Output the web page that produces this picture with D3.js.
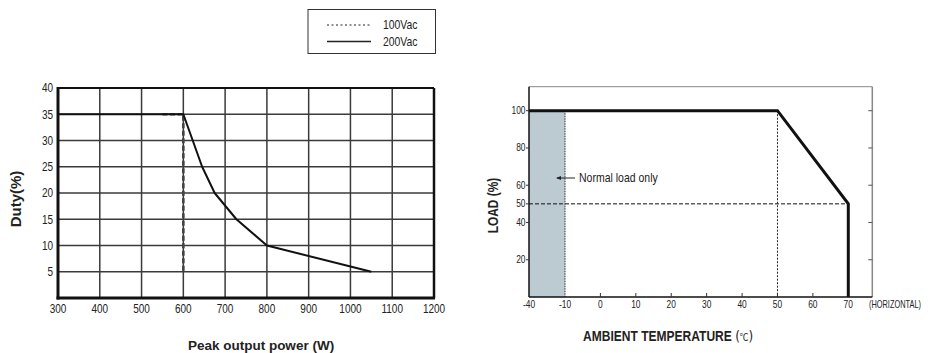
<!DOCTYPE html>
<html><head><meta charset="utf-8">
<script src="https://cdn.jsdelivr.net/npm/d3@7"></script>
<style>
body{margin:0;background:#fff;}
svg{display:block;}
text{font-family:"Liberation Sans",Arial,sans-serif;fill:#222;}
</style></head>
<body><svg id="c" width="928" height="353"></svg>
<script>
// ---- Data: left chart (Duty vs peak output power) ----
const powerTicks = [300,400,500,600,700,800,900,1000,1100,1200];
const dutyTicks = [5,10,15,20,25,30,35,40];
const vac200 = [[300,35],[600,35],[645,25],[675,20],[727,15],[800,10],[1050,5]];
const vac100 = [[550,35],[600,35],[600,5]];
const legendItems = ["100Vac","200Vac"];
// ---- Data: right chart (Derating curve) ----
const tempTicks = [-40,-10,0,10,20,30,40,50,60,70];
const loadTicks = [20,40,50,60,80,100];
const rightTicks = [20,40,60,80,100];
const derating = [[-40,100],[50,100],[70,50],[70,0]];
const normalLoadRange = [-40,-10];

const svg = d3.select("#c");
const SX = 0.8; // narrow face
function narrow(sel, sx = SX) {
  sel.each(function() {
    const t = d3.select(this), x = +t.attr("x"), y = +t.attr("y");
    t.attr("transform", `translate(${x},${y}) scale(${sx},1) translate(${-x},${-y})`);
  });
  return sel;
}

// ===== Left chart =====
const x1 = d3.scaleLinear().domain([300,1200]).range([58,434]);
const y1 = d3.scaleLinear().domain([0,40]).range([298,88]);
const g1 = svg.append("g");
g1.selectAll(".vg").data(powerTicks.slice(1,-1)).join("line")
  .attr("x1",d=>x1(d)).attr("x2",d=>x1(d)).attr("y1",y1(40)).attr("y2",y1(0))
  .attr("stroke","#3a3a3a").attr("stroke-width",1.5);
g1.selectAll(".hg").data(dutyTicks.slice(0,-1)).join("line")
  .attr("x1",x1(300)).attr("x2",x1(1200)).attr("y1",d=>y1(d)).attr("y2",d=>y1(d))
  .attr("stroke","#3a3a3a").attr("stroke-width",1.5);
g1.append("line").attr("x1",x1(300)).attr("x2",x1(1200)).attr("y1",y1(40)).attr("y2",y1(40)).attr("stroke","#111").attr("stroke-width",2);
g1.append("line").attr("x1",x1(1200)).attr("x2",x1(1200)).attr("y1",y1(40)).attr("y2",y1(0)).attr("stroke","#111").attr("stroke-width",2.5);
g1.append("line").attr("x1",x1(300)).attr("x2",x1(300)).attr("y1",y1(40)-1).attr("y2",y1(0)+1.5).attr("stroke","#111").attr("stroke-width",3);
g1.append("line").attr("x1",x1(300)-1.5).attr("x2",x1(1200)+1).attr("y1",y1(0)).attr("y2",y1(0)).attr("stroke","#111").attr("stroke-width",3);
narrow(g1.selectAll(".yl").data(dutyTicks).join("text")
  .attr("x",53).attr("y",d=>y1(d)+4.5).attr("text-anchor","end").attr("font-size",12.5).text(d=>d));
narrow(g1.selectAll(".xl").data(powerTicks).join("text")
  .attr("x",d=>x1(d)).attr("y",313.5).attr("text-anchor","middle").attr("font-size",12.5).text(d=>d));
const line1 = d3.line().x(d=>x1(d[0])).y(d=>y1(d[1]));
g1.append("path").datum(vac100).attr("d",line1).attr("fill","none")
  .attr("stroke","#444").attr("stroke-width",2.6).attr("stroke-dasharray","5,2.5");
g1.append("path").datum(vac200).attr("d",line1).attr("fill","none")
  .attr("stroke","#111").attr("stroke-width",2).attr("stroke-linejoin","round");
g1.append("text").attr("transform","translate(21,199) rotate(-90)").attr("text-anchor","middle")
  .attr("font-weight","bold").attr("font-size",15).text("Duty(%)");
g1.append("text").attr("x",261).attr("y",349.5).attr("text-anchor","middle")
  .attr("font-weight","bold").attr("font-size",13.5).text("Peak output power (W)");
// legend
const lg = svg.append("g");
lg.append("rect").attr("x",308).attr("y",9.5).attr("width",127.5).attr("height",44).attr("fill","#fff").attr("stroke","#333").attr("stroke-width",1);
lg.selectAll(".ll").data(legendItems).join("line")
  .attr("x1",327).attr("x2",371).attr("y1",(d,i)=>25+i*16.5).attr("y2",(d,i)=>25+i*16.5)
  .attr("stroke","#222").attr("stroke-width",(d,i)=>i?1.3:1).attr("stroke-dasharray",(d,i)=>i?null:"2,2.5");
narrow(lg.selectAll(".lt").data(legendItems).join("text")
  .attr("x",383).attr("y",(d,i)=>29.5+i*16.5).attr("font-size",13).text(d=>d));

// ===== Right chart =====
const x2 = d3.scaleLinear().domain([-40,-10,70]).range([529,565,848.3]);
const y2 = d3.scaleLinear().domain([0,100]).range([297,110.7]);
const g2 = svg.append("g");
const L=529, R=872.3, T=86.7, B=297;
g2.append("rect").attr("x",x2(normalLoadRange[0])).attr("y",y2(100))
  .attr("width",x2(normalLoadRange[1])-x2(normalLoadRange[0])).attr("height",y2(0)-y2(100))
  .attr("fill","#bccbd2");
g2.append("line").attr("x1",x2(-10)).attr("x2",x2(-10)).attr("y1",y2(100)).attr("y2",y2(0))
  .attr("stroke","#333").attr("stroke-width",1).attr("stroke-dasharray","1.5,1");
g2.append("line").attr("x1",x2(50)).attr("x2",x2(50)).attr("y1",y2(100)).attr("y2",y2(0))
  .attr("stroke","#222").attr("stroke-width",1).attr("stroke-dasharray","2,1.5");
g2.append("line").attr("x1",L).attr("x2",x2(70)).attr("y1",y2(50)).attr("y2",y2(50))
  .attr("stroke","#111").attr("stroke-width",1).attr("stroke-dasharray","4,2");
g2.append("line").attr("x1",L).attr("x2",R).attr("y1",T).attr("y2",T).attr("stroke","#888").attr("stroke-width",1);
g2.append("line").attr("x1",R).attr("x2",R).attr("y1",T).attr("y2",B).attr("stroke","#888").attr("stroke-width",1.5);
g2.append("line").attr("x1",L).attr("x2",L).attr("y1",T).attr("y2",B).attr("stroke","#111").attr("stroke-width",1.5);
g2.append("line").attr("x1",L).attr("x2",R).attr("y1",B).attr("y2",B).attr("stroke","#111").attr("stroke-width",1.5);
g2.selectAll(".lt").data(loadTicks).join("line")
  .attr("x1",L-3).attr("x2",L).attr("y1",d=>y2(d)).attr("y2",d=>y2(d)).attr("stroke","#333").attr("stroke-width",1);
g2.selectAll(".rt").data(rightTicks).join("line")
  .attr("x1",R-4).attr("x2",R).attr("y1",d=>y2(d)).attr("y2",d=>y2(d)).attr("stroke","#555").attr("stroke-width",1);
g2.selectAll(".bt").data(tempTicks.filter(d=>d>=0)).join("line")
  .attr("x1",d=>x2(d)).attr("x2",d=>x2(d)).attr("y1",B-4).attr("y2",B).attr("stroke","#333").attr("stroke-width",1);
narrow(g2.selectAll(".yl").data(loadTicks).join("text")
  .attr("x",525.5).attr("y",d=>y2(d)+3.5).attr("text-anchor","end").attr("font-size",10.5).text(d=>d));
narrow(g2.selectAll(".xl").data(tempTicks).join("text")
  .attr("x",d=>x2(d)).attr("y",308).attr("text-anchor","middle").attr("font-size",10.5).text(d=>d));
narrow(g2.append("text").attr("x",869).attr("y",308).attr("font-size",10).text("(HORIZONTAL)"), 0.74);
const line2 = d3.line().x(d=>x2(d[0])).y(d=>y2(d[1]));
g2.append("path").datum(derating).attr("d",line2).attr("fill","none")
  .attr("stroke","#111").attr("stroke-width",3);
const ay = 178;
g2.append("line").attr("x1",x2(-10)-8).attr("x2",575).attr("y1",ay).attr("y2",ay).attr("stroke","#222").attr("stroke-width",1);
g2.append("path").attr("d",`M${x2(-10)-9},${ay} l5,-2 l0,4 z`).attr("fill","#222");
narrow(g2.append("text").attr("x",579).attr("y",ay+4.5).attr("font-size",12.5).text("Normal load only"), 0.84);
g2.append("text").attr("transform","translate(498,205.5) rotate(-90) scale(0.85,1)").attr("text-anchor","middle")
  .attr("font-weight","bold").attr("font-size",14).text("LOAD (%)");
const xt = g2.append("text").attr("x",583).attr("y",341).attr("font-size",14).attr("font-weight","bold");
xt.append("tspan").text("AMBIENT TEMPERATURE ");
xt.append("tspan").attr("font-weight","normal").style("font-family","'DejaVu Sans',sans-serif").attr("font-size",14).text("(");
xt.append("tspan").attr("font-weight","normal").style("font-family","'Noto Sans CJK SC',sans-serif").attr("font-size",10).text("℃");
xt.append("tspan").attr("font-weight","normal").style("font-family","'DejaVu Sans',sans-serif").attr("font-size",14).text(")");
narrow(xt, 0.86);
</script></body></html>
